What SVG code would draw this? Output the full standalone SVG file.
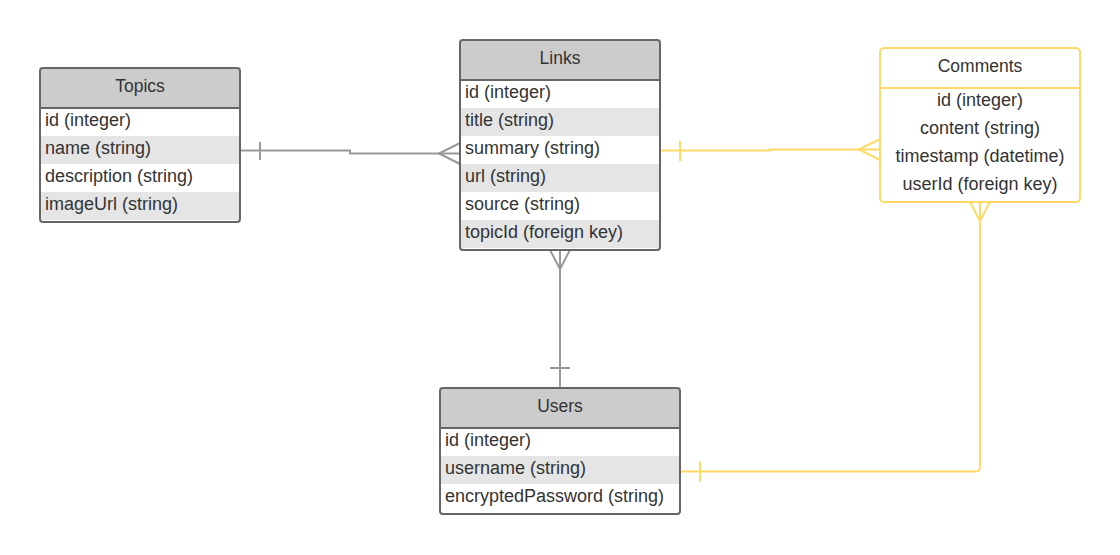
<svg xmlns="http://www.w3.org/2000/svg" width="1120" height="555" viewBox="0 0 1120 555">
<style>
text{font-family:"Liberation Sans",Arial,sans-serif;font-size:18px;fill:#333}
.t{text-anchor:middle;font-size:17.5px}
.c{text-anchor:middle}
.hdr{fill:#ccc}
.alt{fill:#e5e5e5}
.box{fill:none;stroke:#666;stroke-width:2}
.sep{stroke:#666;stroke-width:2}
.ybox{fill:#fff;stroke:#ffd966;stroke-width:2}
.ysep{stroke:#ffd966;stroke-width:2}
.g{fill:none;stroke:#999;stroke-width:2}
.y{fill:none;stroke:#ffd966;stroke-width:2}
</style>
<rect width="1120" height="555" fill="#fff"/>
<g id="connectors">
  <g id="topics-links">
    <path class="g" d="M240 150.5H350V153.5H460"/>
    <path class="g" d="M260 142V160"/>
    <path class="g" d="M460 143L439 153.5L460 164"/>
  </g>
  <g id="links-comments">
    <path class="y" d="M660 150.5H770V149.5H880"/>
    <path class="y" d="M680 141V161"/>
    <path class="y" d="M880 139L859 149.5L880 160"/>
  </g>
  <g id="links-users">
    <path class="g" d="M560 250V388"/>
    <path class="g" d="M550 250L560 269L570 250"/>
    <path class="g" d="M550 368H570"/>
  </g>
  <g id="comments-users">
    <path class="y" d="M980 202V467Q980 471.5 975.5 471.5H680"/>
    <path class="y" d="M970 202L980 221L990 202"/>
    <path class="y" d="M700 461.5V481.5"/>
  </g>
</g>
<g id="topics">
  <path class="hdr" d="M40 108V71Q40 68 43 68H237Q240 68 240 71V108Z"/>
  <rect class="alt" x="40" y="136" width="200" height="28"/>
  <rect class="alt" x="40" y="192" width="200" height="28"/>
  <rect class="box" x="40" y="68" width="200" height="154" rx="3"/>
  <line class="sep" x1="40" y1="108" x2="240" y2="108"/>
  <text class="t" x="140" y="92">Topics</text>
  <text x="45" y="125.5">id (integer)</text>
  <text x="45" y="153.5">name (string)</text>
  <text x="45" y="181.5">description (string)</text>
  <text x="45" y="209.5">imageUrl (string)</text>
</g>
<g id="links">
  <path class="hdr" d="M460 80V43Q460 40 463 40H657Q660 40 660 43V80Z"/>
  <rect class="alt" x="460" y="108" width="200" height="28"/>
  <rect class="alt" x="460" y="164" width="200" height="28"/>
  <rect class="alt" x="460" y="220" width="200" height="28"/>
  <rect class="box" x="460" y="40" width="200" height="210" rx="3"/>
  <line class="sep" x1="460" y1="80" x2="660" y2="80"/>
  <text class="t" x="560" y="64">Links</text>
  <text x="465" y="97.5">id (integer)</text>
  <text x="465" y="125.5">title (string)</text>
  <text x="465" y="153.5">summary (string)</text>
  <text x="465" y="181.5">url (string)</text>
  <text x="465" y="209.5">source (string)</text>
  <text x="465" y="237.5">topicId (foreign key)</text>
</g>
<g id="comments">
  <rect class="ybox" x="880" y="48" width="200" height="154" rx="4"/>
  <line class="ysep" x1="880" y1="88" x2="1080" y2="88"/>
  <text class="t" x="980" y="72">Comments</text>
  <text class="c" x="980" y="105.5">id (integer)</text>
  <text class="c" x="980" y="133.5">content (string)</text>
  <text class="c" x="980" y="161.5">timestamp (datetime)</text>
  <text class="c" x="980" y="189.5">userId (foreign key)</text>
</g>
<g id="users">
  <path class="hdr" d="M440 428V391Q440 388 443 388H677Q680 388 680 391V428Z"/>
  <rect class="alt" x="440" y="456" width="240" height="28"/>
  <rect class="box" x="440" y="388" width="240" height="126" rx="3"/>
  <line class="sep" x1="440" y1="428" x2="680" y2="428"/>
  <text class="t" x="560" y="412">Users</text>
  <text x="445" y="445.5">id (integer)</text>
  <text x="445" y="473.5">username (string)</text>
  <text x="445" y="501.5">encryptedPassword (string)</text>
</g>
</svg>
